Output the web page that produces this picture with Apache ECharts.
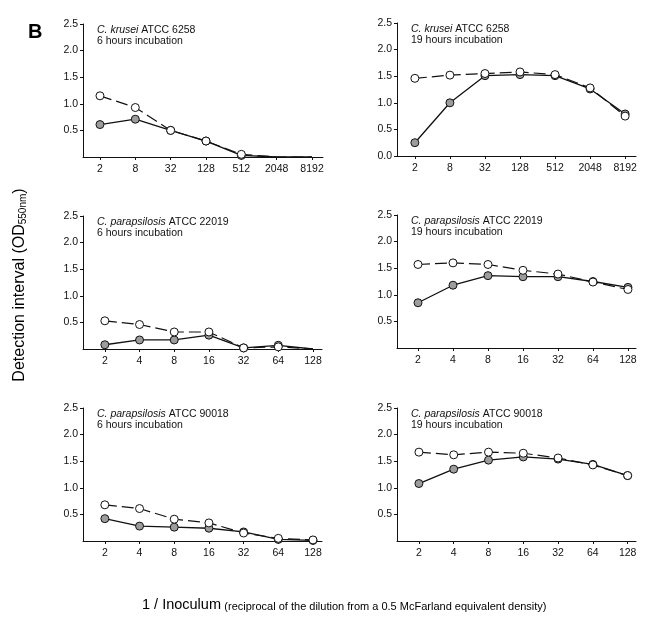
<!DOCTYPE html>
<html>
<head>
<meta charset="utf-8">
<script src="https://cdn.jsdelivr.net/npm/echarts@6/dist/echarts.min.js"></script>
<style>
html, body { margin: 0; padding: 0; background: #fff; }
#fig { width: 652px; height: 626px; }
</style>
</head>
<body>
<div id="fig"></div>
<script>
// x categories (1 / inoculum)
var dosesLong = ['2', '8', '32', '128', '512', '2048', '8192'];
var dosesShort = ['2', '4', '8', '16', '32', '64', '128'];

// detection interval, grey symbols (solid line) and open symbols (dashed line)
var krusei6Filled = [0.61, 0.71, 0.50, 0.30, 0.03, 0, 0];
var krusei6Open = [1.15, 0.93, 0.50, 0.30, 0.05, 0, 0];
var krusei19Filled = [0.25, 1.00, 1.51, 1.53, 1.51, 1.26, 0.79];
var krusei19Open = [1.46, 1.52, 1.55, 1.58, 1.53, 1.28, 0.75];
var p22019_6Filled = [0.08, 0.17, 0.17, 0.26, 0.02, 0.07, 0];
var p22019_6Open = [0.53, 0.46, 0.32, 0.32, 0.02, 0.04, 0];
var p22019_19Filled = [0.85, 1.18, 1.36, 1.34, 1.34, 1.25, 1.14];
var p22019_19Open = [1.57, 1.60, 1.57, 1.46, 1.39, 1.24, 1.10];
var p90018_6Filled = [0.42, 0.28, 0.26, 0.24, 0.17, 0.03, 0.01];
var p90018_6Open = [0.68, 0.61, 0.41, 0.34, 0.15, 0.05, 0.02];
var p90018_19Filled = [1.08, 1.35, 1.52, 1.58, 1.54, 1.44, 1.23];
var p90018_19Open = [1.67, 1.62, 1.67, 1.65, 1.56, 1.43, 1.23];

var FONT = '"Liberation Sans", Arial, Helvetica, sans-serif';

var panels = [
    {species: 'C. krusei', strain: 'ATCC 6258', time: '6 hours incubation', cats: dosesLong,
     filled: krusei6Filled, open: krusei6Open, left: 83, top: 24, width: 240, xMin: -0.48, xMax: 6.31, zero: false},
    {species: 'C. krusei', strain: 'ATCC 6258', time: '19 hours incubation', cats: dosesLong,
     filled: krusei19Filled, open: krusei19Open, left: 397, top: 23, width: 239, xMin: -0.51, xMax: 6.31, zero: true},
    {species: 'C. parapsilosis', strain: 'ATCC 22019', time: '6 hours incubation', cats: dosesShort,
     filled: p22019_6Filled, open: p22019_6Open, left: 83, top: 216, width: 239, xMin: -0.63, xMax: 6.26, zero: false},
    {species: 'C. parapsilosis', strain: 'ATCC 22019', time: '19 hours incubation', cats: dosesShort,
     filled: p22019_19Filled, open: p22019_19Open, left: 397, top: 215, width: 239, xMin: -0.6, xMax: 6.23, zero: false},
    {species: 'C. parapsilosis', strain: 'ATCC 90018', time: '6 hours incubation', cats: dosesShort,
     filled: p90018_6Filled, open: p90018_6Open, left: 83, top: 408, width: 239, xMin: -0.63, xMax: 6.26, zero: false},
    {species: 'C. parapsilosis', strain: 'ATCC 90018', time: '19 hours incubation', cats: dosesShort,
     filled: p90018_19Filled, open: p90018_19Open, left: 397, top: 408, width: 239, xMin: -0.63, xMax: 6.24, zero: false}
];

var chart = echarts.init(document.getElementById('fig'));

var grids = [], xAxes = [], yAxes = [], titles = [], series = [];

function toPoints(vals) {
    var res = [];
    for (var i = 0; i < vals.length; i++) {
        res.push([i, vals[i]]);
    }
    return res;
}

function hideZero(val) {
    return val[1] > 0 ? 8 : 0;
}

panels.forEach(function (p, k) {
    var idx = p.cats.map(function (c, i) { return i; });
    grids.push({left: p.left, top: p.top, width: p.width, height: 133});
    titles.push({
        text: '{i|' + p.species + '} ' + p.strain + '\n' + p.time,
        left: p.left + 14,
        top: p.top + 1,
        padding: 0,
        textStyle: {
            fontFamily: FONT, fontSize: 10.5, fontWeight: 'normal', color: '#111', lineHeight: 11,
            rich: {i: {fontFamily: FONT, fontSize: 10.5, fontStyle: 'italic', color: '#111', lineHeight: 11}}
        }
    });
    xAxes.push({
        type: 'value', gridIndex: k, min: p.xMin, max: p.xMax,
        splitLine: {show: false},
        axisLine: {onZero: false, lineStyle: {color: '#111', width: 1}},
        axisTick: {customValues: idx, length: 3, lineStyle: {color: '#111'}},
        axisLabel: {
            customValues: idx, margin: 7, color: '#111', fontFamily: FONT, fontSize: 10.5,
            formatter: function (v) { return p.cats[Math.round(v)]; }
        }
    });
    yAxes.push({
        type: 'value', gridIndex: k, min: 0, max: 2.5, interval: 0.5,
        splitLine: {show: false},
        axisLine: {show: true, onZero: false, lineStyle: {color: '#111', width: 1}},
        axisTick: {show: true, length: 3, lineStyle: {color: '#111'}},
        axisLabel: {
            margin: 5, color: '#111', fontFamily: FONT, fontSize: 10.5,
            showMinLabel: p.zero,
            formatter: function (v) { return v.toFixed(1); }
        }
    });
    series.push({
        type: 'line', xAxisIndex: k, yAxisIndex: k,
        data: toPoints(p.filled),
        symbol: 'circle', symbolSize: hideZero,
        lineStyle: {color: '#111', width: 1.3, type: 'solid'},
        itemStyle: {color: '#9c9c9c', borderColor: '#111', borderWidth: 1},
        z: 2
    });
    series.push({
        type: 'line', xAxisIndex: k, yAxisIndex: k,
        data: toPoints(p.open),
        symbol: 'circle', symbolSize: hideZero,
        lineStyle: {color: '#111', width: 1.2, type: [12, 5]},
        itemStyle: {color: '#fff', borderColor: '#111', borderWidth: 1},
        z: 3
    });
});

chart.setOption({
    animation: false,
    backgroundColor: '#fff',
    title: titles,
    grid: grids,
    xAxis: xAxes,
    yAxis: yAxes,
    series: series,
    graphic: [
        {
            type: 'text', left: 28, top: 22,
            style: {text: 'B', fontFamily: FONT, fontSize: 20, fontWeight: 'bold', fill: '#000'}
        },
        {
            type: 'text', x: 19, y: 285, rotation: Math.PI / 2,
            style: {
                text: '{a|Detection interval (OD}{s|550nm}{a|)}',
                align: 'center', verticalAlign: 'middle',
                rich: {
                    a: {fontFamily: FONT, fontSize: 16, fill: '#000', lineHeight: 18, verticalAlign: 'bottom'},
                    s: {fontFamily: FONT, fontSize: 10, fill: '#000', lineHeight: 10, verticalAlign: 'bottom', padding: [8, 0, 0, 0]}
                }
            }
        },
        {
            type: 'text', x: 142, y: 604,
            style: {
                text: '{b|1 / Inoculum} {s|(reciprocal of the dilution from a 0.5 McFarland equivalent density)}',
                align: 'left', verticalAlign: 'middle',
                rich: {
                    b: {fontFamily: FONT, fontSize: 14.5, fill: '#000', lineHeight: 16, verticalAlign: 'bottom'},
                    s: {fontFamily: FONT, fontSize: 11, fill: '#000', lineHeight: 13, verticalAlign: 'bottom'}
                }
            }
        }
    ]
});
</script>
</body>
</html>
